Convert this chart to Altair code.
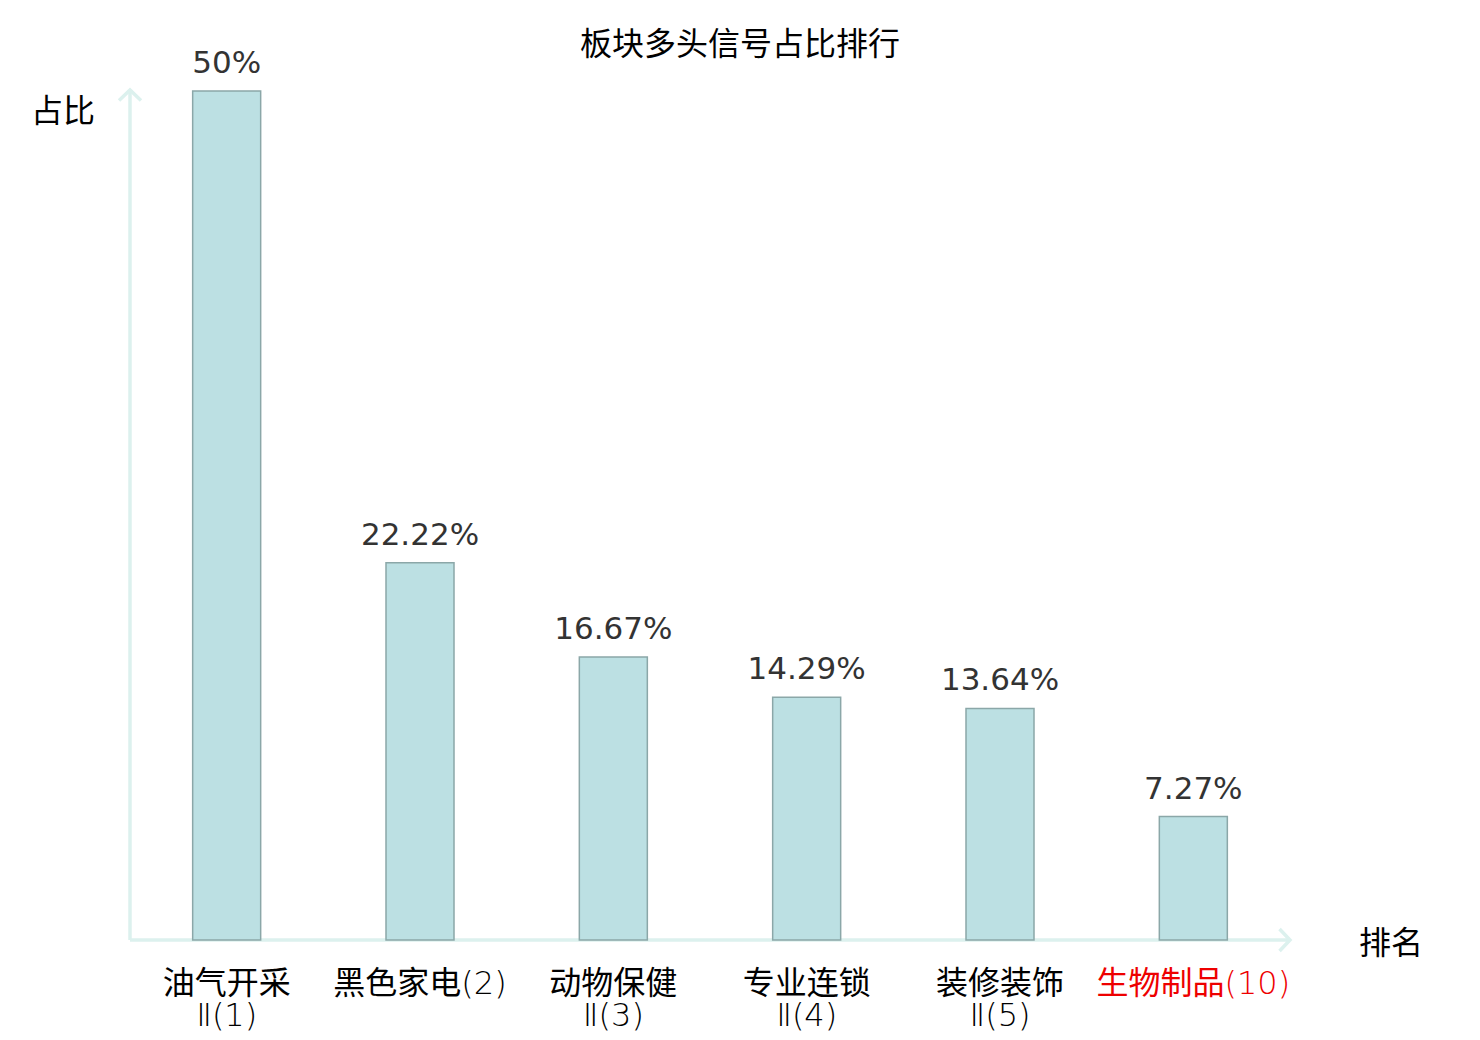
import altair as alt
import pandas as pd

categories = ["油气开采\nⅡ(1)", "黑色家电(2)", "动物保健\nⅡ(3)", "专业连锁\nⅡ(4)", "装修装饰\nⅡ(5)", "生物制品(10)"]
values = [50, 22.22, 16.67, 14.29, 13.64, 7.27]
value_labels = ["50%", "22.22%", "16.67%", "14.29%", "13.64%", "7.27%"]
highlight = "生物制品(10)"

df = pd.DataFrame({"cat": categories, "val": values, "lab": value_labels})

W, H = 1160, 849
FONT = "Noto Sans CJK SC"
LABEL_FONT = "DejaVu Sans ExtraLight, DejaVu Sans Light, DejaVu Sans, Noto Sans CJK SC"
AXIS_COLOR = "#dcf1ee"

x_enc = alt.X(
    "cat:N",
    sort=categories,
    scale=alt.Scale(paddingInner=0, paddingOuter=0),
    axis=alt.Axis(
        title=None,
        domain=False,
        ticks=False,
        labelAngle=0,
        labelFont=LABEL_FONT,
        labelFontSize=32,
        labelLineHeight=32,
        labelPadding=28,
        labelExpr="split(datum.label, '\\n')",
        labelColor={"expr": f"datum.value == '{highlight}' ? '#ee0000' : '#000000'"},
        labelLimit=400,
    ),
)
y_enc = alt.Y("val:Q", scale=alt.Scale(domain=[0, 50], nice=False), axis=None)

base = alt.Chart(df)

bars = base.mark_bar(
    size=68, fill="#bce0e3", stroke="#8ba7a8", strokeWidth=1.5
).encode(x=x_enc, y=y_enc)

texts = base.mark_text(
    baseline="alphabetic", dy=-18, font="DejaVu Sans", fontSize=31, color="#333333"
).encode(x=alt.X("cat:N", sort=categories), y=y_enc, text="lab:N")

ann = alt.Chart(pd.DataFrame({"a": [0]}))

x_axis_line = ann.mark_rule(color=AXIS_COLOR, strokeWidth=3.5).encode(
    x=alt.value(0), x2=alt.value(W), y=alt.value(H)
)
y_axis_line = ann.mark_rule(color=AXIS_COLOR, strokeWidth=3.5).encode(
    x=alt.value(0), y=alt.value(-1), y2=alt.value(H)
)
up_arrow = ann.mark_point(
    shape="M-1,0.95 L0,0 L1,0.95", size=484, filled=False, stroke=AXIS_COLOR, strokeWidth=3.5, opacity=1
).encode(x=alt.value(0), y=alt.value(-1))
right_arrow = ann.mark_point(
    shape="M-0.95,-1 L0,0 L-0.95,1", size=484, filled=False, stroke=AXIS_COLOR, strokeWidth=3.5, opacity=1
).encode(x=alt.value(W), y=alt.value(H))

title = ann.mark_text(font=FONT, fontSize=32, color="#000000", baseline="middle", align="center").encode(
    x=alt.value(610), y=alt.value(-46), text=alt.value("板块多头信号占比排行")
)
ytitle = ann.mark_text(font=FONT, fontSize=32, color="#000000", baseline="middle", align="center").encode(
    x=alt.value(-67), y=alt.value(21), text=alt.value("占比")
)
xtitle = ann.mark_text(font=FONT, fontSize=32, color="#000000", baseline="middle", align="center").encode(
    x=alt.value(1261), y=alt.value(853), text=alt.value("排名")
)

chart = alt.layer(
    x_axis_line, y_axis_line, up_arrow, right_arrow, bars, texts, title, ytitle, xtitle
).properties(
    width=W,
    height=H,
    autosize=alt.AutoSizeParams(type="none"),
    padding={"left": 122, "top": 83, "right": 182, "bottom": 92},
    background="#ffffff",
).configure_view(stroke=None)

chart.save("out.html", embed_options={"renderer": "svg", "actions": False})
